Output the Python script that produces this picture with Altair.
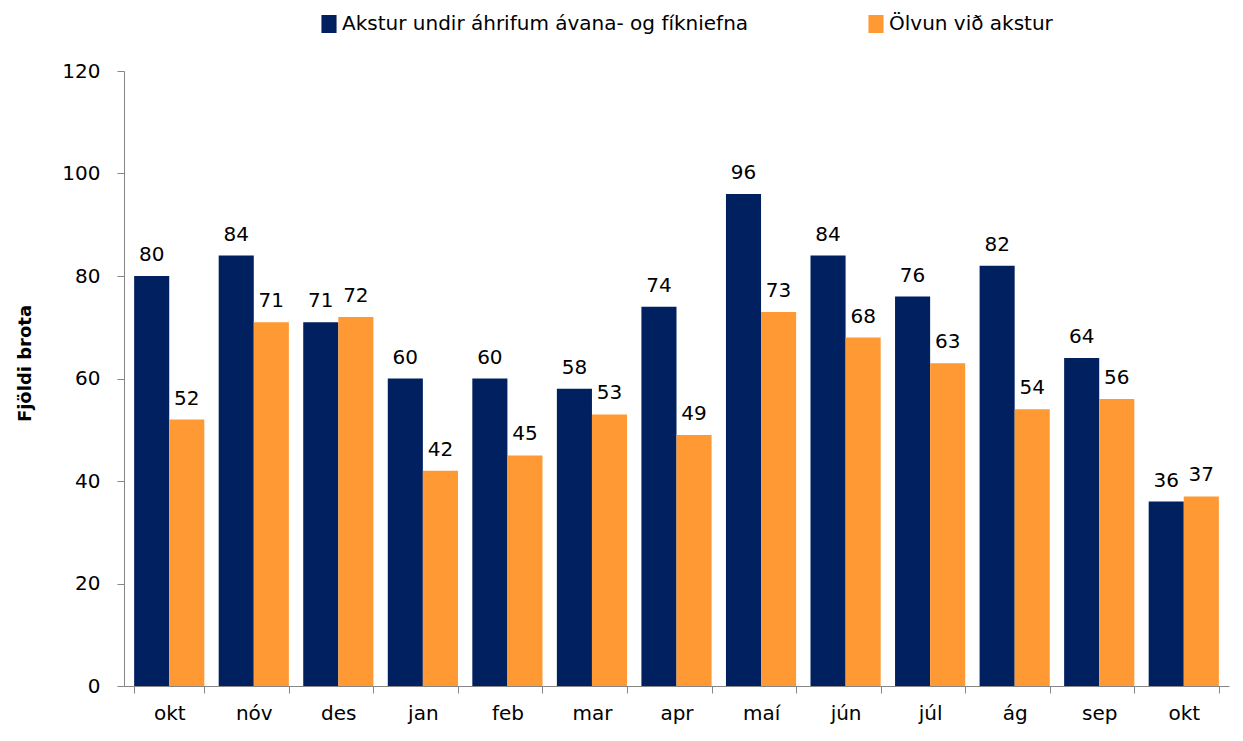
import json
import altair as alt
import pandas as pd

months = ["okt", "nóv", "des", "jan", "feb", "mar", "apr", "maí", "jún", "júl", "ág", "sep", "okt"]
series_names = ["Akstur undir áhrifum ávana- og fíkniefna", "Ölvun við akstur"]
drugs = [80, 84, 71, 60, 60, 58, 74, 96, 84, 76, 82, 64, 36]
drunk = [52, 71, 72, 42, 45, 53, 49, 73, 68, 63, 54, 56, 37]
colors = ["#002060", "#FF9933"]
y_ticks = [0, 20, 40, 60, 80, 100, 120]

rows = []
for i in range(len(months)):
    rows.append({"idx": i, "series": series_names[0], "value": drugs[i]})
    rows.append({"idx": i, "series": series_names[1], "value": drunk[i]})
df = pd.DataFrame(rows)

label_expr = json.dumps(months, ensure_ascii=False) + "[datum.value]"
FONT = "DejaVu Sans"

x_enc = alt.X(
    "idx:O",
    sort="ascending",
    scale=alt.Scale(paddingInner=0.17, paddingOuter=0.12),
    axis=alt.Axis(
        title=None,
        labelExpr=label_expr,
        labelAngle=0,
        tickBand="extent",
        tickSize=7,
        labelPadding=10,
        domainColor="#868686",
        tickColor="#868686",
        labelFont=FONT,
        labelFontSize=20,
        labelColor="#000000",
    ),
)
xoff = alt.XOffset("series:N", sort=series_names, scale=alt.Scale(paddingInner=0, paddingOuter=0))
y_enc = alt.Y(
    "value:Q",
    scale=alt.Scale(domain=[0, 120], nice=False),
    axis=alt.Axis(
        values=y_ticks,
        grid=False,
        tickSize=7,
        labelPadding=17,
        domainColor="#868686",
        tickColor="#868686",
        labelFont=FONT,
        labelFontSize=20,
        labelColor="#000000",
        title="Fjöldi brota",
        titleFont=FONT,
        titleFontSize=18,
        titleFontWeight="bold",
        titleColor="#000000",
        titleX=-99,
        titleY=292,
        titleAlign="center",
        titleBaseline="middle",
    ),
)

bars = alt.Chart(df).mark_bar(opacity=1).encode(
    x=x_enc,
    xOffset=xoff,
    y=y_enc,
    color=alt.Color(
        "series:N",
        sort=series_names,
        scale=alt.Scale(domain=series_names, range=colors),
        legend=alt.Legend(
            title=None,
            orient="none",
            legendX=195,
            legendY=-57,
            direction="horizontal",
            symbolType="M-0.84,-1H0.84V1H-0.84Z",
            symbolSize=324,
            symbolStrokeWidth=0,
            symbolOpacity=1,
            labelFont=FONT,
            labelFontSize=20,
            labelColor="#000000",
            labelLimit=800,
            labelOffset=3,
            columnPadding=117,
            padding=0,
        ),
    ),
)

labels = alt.Chart(df).mark_text(
    dy=-15, baseline="alphabetic", align="center", font=FONT, fontSize=20, color="#000000"
).encode(
    x=alt.X("idx:O", sort="ascending"),
    xOffset=alt.XOffset("series:N", sort=series_names),
    y=alt.Y("value:Q"),
    text=alt.Text("value:Q"),
)

chart = (
    alt.layer(bars, labels)
    .properties(
        width=1105,
        height=615,
        autosize=alt.AutoSizeParams(type="none"),
        padding={"left": 116, "top": 63, "right": 6, "bottom": 47},
    )
    .configure_view(stroke=None)
)

chart.save("out.html", embed_options={"renderer": "svg", "actions": False})
